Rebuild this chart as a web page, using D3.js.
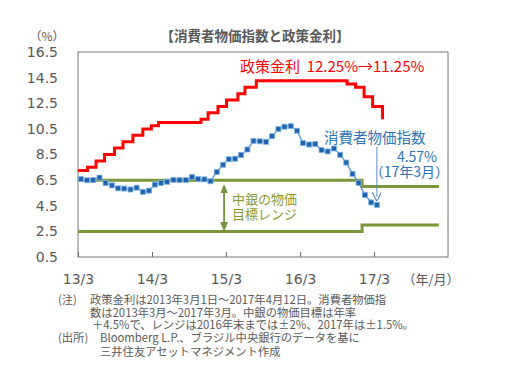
<!doctype html>
<html lang="ja">
  <head>
    <meta charset="UTF-8"/>
    <title>消費者物価指数と政策金利</title>
    <script src="https://cdnjs.cloudflare.com/ajax/libs/d3/7.8.5/d3.min.js"></script>
    <style>
      body { margin: 0; background: #fff; }
      text { font-family: "DejaVu Sans", sans-serif; white-space: pre; }
      .jp { font-family: "Noto Sans CJK JP", sans-serif; }
    </style>
  </head>
  <body>
    <div id="chart"></div>
    <script>
      // policy rate (Selic) change dates and levels
      var rateDates = ["2013-03-01","2013-04-17","2013-05-29","2013-07-10","2013-08-28","2013-10-09",
                       "2013-11-27","2014-01-15","2014-02-26","2014-04-02","2014-10-29","2014-12-03",
                       "2015-01-21","2015-03-04","2015-04-29","2015-06-03","2015-07-29","2016-10-19",
                       "2016-11-30","2017-01-11","2017-02-22","2017-04-12"];
      var rateValues = [7.25,7.5,8.0,8.5,9.0,9.5,10.0,10.5,10.75,11.0,11.25,11.75,
                        12.25,12.75,13.25,13.75,14.25,14.0,13.75,13.0,12.25,11.25];

      // CPI (y/y %) monthly, 2013/3 - 2017/3
      var cpiStart = "2013-03-15";
      var cpiValues = [6.59,6.49,6.50,6.70,6.27,6.09,5.86,5.84,5.77,5.91,
                       5.59,5.68,6.15,6.28,6.37,6.52,6.50,6.51,6.75,6.59,6.56,6.41,
                       7.14,7.70,8.13,8.17,8.47,8.89,9.56,9.53,9.49,9.93,10.48,10.67,
                       10.71,10.36,9.39,9.28,9.32,8.84,8.74,8.97,8.48,7.87,6.99,6.29,
                       5.35,4.76,4.57];

      // central bank target range
      var bandDates = ["2013-03-01","2017-01-01","2018-01-15"];
      var bandUpper = [6.5,6.0,6.0];
      var bandLower = [2.5,3.0,3.0];

      var yTicks = [0.5,2.5,4.5,6.5,8.5,10.5,12.5,14.5,16.5];
      var xTicks = ["2013-03-01","2014-03-01","2015-03-01","2016-03-01","2017-03-01"];
      var xTickLabels = ["13/3","14/3","15/3","16/3","17/3"];

      var notes = [
        "政策金利は2013年3月1日～2017年4月12日。消費者物価指",
        "数は2013年3月～2017年3月。中銀の物価目標は年率",
        "＋4.5%で、レンジは2016年末までは±2%、2017年は±1.5%。"
      ];
      var sources = ["Bloomberg L.P.、ブラジル中央銀行のデータを基に", "三井住友アセットマネジメント作成"];

      var parse = d3.timeParse("%Y-%m-%d");
      var W = 508, H = 373;
      var pLeft = 78, pRight = 448, pTop = 52, pBottom = 257;
      var gray = "#595959";

      var svg = d3.select("#chart").append("svg")
          .attr("width", W).attr("height", H);

      var x = d3.scaleTime()
          .domain([parse("2013-03-01"), parse("2018-03-01")])
          .range([pLeft, pRight]);
      var y = d3.scaleLinear().domain([0.5, 16.5]).range([pBottom, pTop]);

      // title & unit
      svg.append("text").attr("class","jp")
	.attr("x", 255).attr("y", 41).attr("text-anchor","middle")
	.attr("font-size", 13.5).attr("font-weight","bold").attr("fill", gray)
	.text("【消費者物価指数と政策金利】");
      svg.append("text").attr("class","jp")
	.attr("x", 47).attr("y", 41).attr("text-anchor","middle")
	.attr("font-size", 12).attr("fill", gray).text("（%）");

      // y axis labels
      var yAxis = d3.axisLeft(y).tickValues(yTicks).tickSize(0).tickPadding(20)
          .tickFormat(d3.format(".1f"));
      svg.append("g").attr("transform", "translate(" + pLeft + ",0)").call(yAxis)
	.call(g => g.select(".domain").remove())
	.selectAll("text").attr("font-size", 14).attr("fill", gray)
	.attr("font-family", "DejaVu Sans");

      // x axis, inward ticks
      var xAxis = d3.axisBottom(x).tickValues(xTicks.map(parse)).tickSizeInner(-5).tickSizeOuter(0)
          .tickPadding(17).tickFormat((d, i) => xTickLabels[i]);
      var gx = svg.append("g").attr("transform", "translate(0," + pBottom + ")").call(xAxis);
      gx.select(".domain").remove();
      gx.selectAll("line").attr("stroke", "#666");
      gx.selectAll("text").attr("font-size", 14).attr("fill", gray).attr("font-family", "DejaVu Sans");
      svg.append("text").attr("class","jp")
	.attr("x", 431).attr("y", 284).attr("text-anchor","middle")
	.attr("font-size", 13).attr("fill", gray).text("（年/月）");

      // plot frame
      svg.append("rect").attr("x", pLeft).attr("y", pTop)
	.attr("width", pRight - pLeft).attr("height", pBottom - pTop)
	.attr("fill","none").attr("stroke","#777").attr("stroke-width",1);

      // target band lines
      var band = d3.line().curve(d3.curveStepAfter)
          .x(d => x(parse(d[0]))).y(d => y(d[1]));
      [bandUpper, bandLower].forEach(vals => {
	svg.append("path").datum(bandDates.map((d, i) => [d, vals[i]]))
	  .attr("d", band).attr("fill","none")
	  .attr("stroke","#7a9838").attr("stroke-width",3);
      });

      // double arrow for the range
      var defs = svg.append("defs");
      function marker(id, color, path, size) {
	defs.append("marker").attr("id", id).attr("viewBox","0 0 10 10")
	  .attr("refX", 5).attr("refY", 5).attr("markerWidth", size).attr("markerHeight", size)
	  .attr("markerUnits","userSpaceOnUse")
	  .attr("orient","auto-start-reverse")
	  .append("path").attr("d", path).attr("fill", path.endsWith("Z") ? color : "none")
	  .attr("stroke", color).attr("stroke-width", 1.3);
      }
      marker("ga", "#77933c", "M0,1 L10,5 L0,9 Z", 8);
      marker("ba", "#5b8fc7", "M0,0 L10,5 L0,10", 9);
      var arrowX = x(parse("2015-02-20"));
      svg.append("line").attr("x1", arrowX).attr("x2", arrowX)
	.attr("y1", y(6.5) + 9).attr("y2", y(2.5) - 5)
	.attr("stroke","#77933c").attr("stroke-width",1.8)
	.attr("marker-start","url(#ga)").attr("marker-end","url(#ga)");
      svg.append("text").attr("class","jp").attr("x", 232).attr("y", 204)
	.attr("font-size", 13).attr("fill","#8a9a2a").text("中銀の物価");
      svg.append("text").attr("class","jp").attr("x", 232).attr("y", 219)
	.attr("font-size", 13).attr("fill","#8a9a2a").text("目標レンジ");

      // policy rate
      var rateLine = d3.line().curve(d3.curveStepAfter)
          .x(d => x(parse(d[0]))).y(d => y(d[1]));
      svg.append("path").datum(rateDates.map((d, i) => [d, rateValues[i]]))
	.attr("d", rateLine).attr("fill","none")
	.attr("stroke","#ff0000").attr("stroke-width",3);
      svg.append("text").attr("class","jp").attr("x", 240).attr("y", 72)
	.attr("font-size", 15).attr("fill","#ff0000").text("政策金利  12.25%→11.25%");

      // CPI
      var c0 = parse(cpiStart);
      var cpi = cpiValues.map((v, i) => ({date: d3.timeMonth.offset(c0, i), value: v}));
      var cpiLine = d3.line().x(d => x(d.date)).y(d => y(d.value));
      svg.append("path").datum(cpi).attr("d", cpiLine)
	.attr("fill","none").attr("stroke","#4a8fd0").attr("stroke-width",1.2);
      svg.selectAll(".pt").data(cpi).enter().append("rect").attr("class","pt")
	.attr("x", d => x(d.date) - 2.5).attr("y", d => y(d.value) - 2.5)
	.attr("width", 5).attr("height", 5)
	.attr("fill","#1f63ad").attr("stroke","#7fb2e5").attr("stroke-width",0.8);

      var last = cpi[cpi.length - 1];
      svg.append("line").attr("x1", x(last.date)).attr("x2", x(last.date))
	.attr("y1", 147).attr("y2", y(last.value) - 8)
	.attr("stroke","#5b8fc7").attr("stroke-width",1)
	.attr("marker-end","url(#ba)");
      svg.append("text").attr("class","jp").attr("x", 324).attr("y", 143)
	.attr("font-size", 14.5).attr("fill","#2e75b6").text("消費者物価指数");
      svg.append("text").attr("class","jp").attr("x", 437).attr("y", 162).attr("text-anchor","end")
	.attr("font-size", 14).attr("fill","#2e75b6").text("4.57%");
      svg.append("text").attr("class","jp").attr("x", 449).attr("y", 177).attr("text-anchor","end")
	.attr("font-size", 14).attr("fill","#2e75b6").text("（17年3月）");

      // notes
      var fs = 11.3;
      svg.append("text").attr("class","jp").attr("x", 58).attr("y", 304)
	.attr("font-size", fs).attr("fill", gray).text("(注)");
      notes.forEach((t, i) => {
	svg.append("text").attr("class","jp").attr("x", i == 2 ? 92 : 90).attr("y", 304 + i * 12.5)
	  .attr("font-size", fs).attr("fill", gray).text(t);
      });
      svg.append("text").attr("class","jp").attr("x", 58).attr("y", 342)
	.attr("font-size", fs).attr("fill", gray).text("(出所)");
      sources.forEach((t, i) => {
	svg.append("text").attr("class","jp").attr("x", 100).attr("y", 342 + i * 14)
	  .attr("font-size", fs).attr("fill", gray).text(t);
      });
    </script>
  </body>
</html>
